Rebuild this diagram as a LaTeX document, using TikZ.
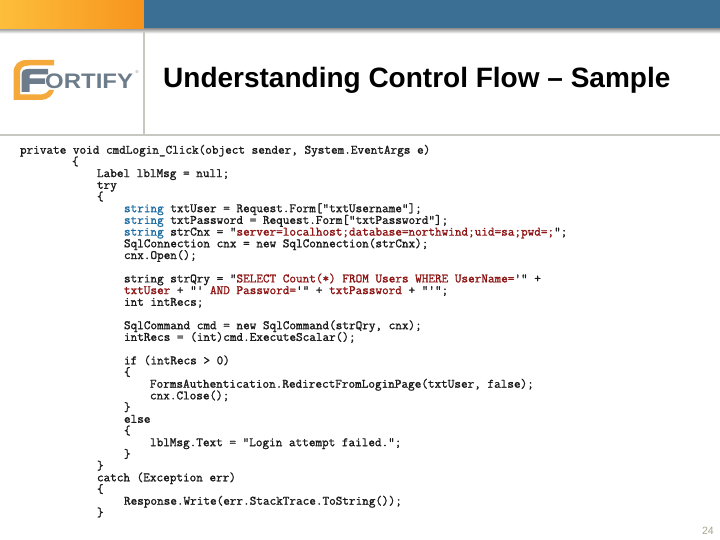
\documentclass[tikz,border=0pt]{standalone}
\usepackage{fontspec}
\setmainfont{Liberation Sans}
\newfontfamily\codefont{Latin Modern Mono}[FakeBold=1.3]
\usetikzlibrary{shadings}
\definecolor{barblue}{HTML}{3B6F93}
\definecolor{kwblue}{HTML}{1F6FA5}
\definecolor{strred}{HTML}{8F1414}
\definecolor{rulegrey}{HTML}{C8C8C2}
\definecolor{logogrey}{HTML}{6D7C8A}
\definecolor{logoorange}{HTML}{F5A93A}
\definecolor{numgrey}{HTML}{A8A490}
\definecolor{codeink}{HTML}{1A1A1A}
\definecolor{barleft}{HTML}{FDBE3C}
\definecolor{barright}{HTML}{F7941E}
\tikzset{
  codeline/.style={anchor=base west,inner sep=0pt,outer sep=0pt,text=codeink,font=\codefont\fontsize{12.85}{12.85}\selectfont},
  logotext/.style={anchor=base west,inner sep=0pt,text=logogrey,xscale=1.14,font=\bfseries\fontsize{21}{21}\selectfont}
}
\newcommand{\kw}[1]{\textcolor{kwblue}{#1}}
\newcommand{\st}[1]{\textcolor{strred}{#1}}
\begin{document}
\begin{tikzpicture}[x=1pt,y=-1pt]
\useasboundingbox (0,0) rectangle (720,540);
\fill[white] (0,0) rectangle (720,540);
% header bar
\shade[top color=black!45,bottom color=white] (0,28) rectangle (720,33.5);
\shade[left color=barleft,right color=barright] (0,0) rectangle (144,28.5);
\fill[barblue] (144,0) rectangle (720,28.5);
% rules
\fill[rulegrey] (143.3,31) rectangle (144.7,135);
\fill[rulegrey] (0,134.5) rectangle (720,136);
% logo
\fill[logoorange,even odd rule] (54,60) -- (27,60) .. controls (18,60) and (13.5,65) .. (13.5,73) -- (13.5,100) -- (41,100) .. controls (48,100) and (53,95) .. (54,90) -- (49,90) .. controls (47,93) and (44,94.5) .. (40,94.5) -- (20,94.5) -- (20,73) .. controls (20,68) and (23,65.5) .. (29,65.5) -- (54,65.5) -- cycle;
\fill[logogrey] (21.5,92) -- (21.5,75) .. controls (21.5,71) and (24,69) .. (28,69) -- (48,69) -- (48,74.5) -- (31,74.5) .. controls (30,74.5) and (29.5,75) .. (29.5,76.5) -- (29.5,78.5) -- (45,78.5) -- (45,84) -- (29.5,84) -- (29.5,92) -- cycle;
\node[logotext] (logo) at (45,88.5) {ORTIFY};
\node[anchor=center,inner sep=0pt,text=logogrey,font=\fontsize{4}{4}\selectfont] (reg) at (137,72.5) {®};
% title
\node[anchor=base west,inner sep=0pt,font=\bfseries\fontsize{28}{28}\selectfont,text=black] (title) at (163,88) {Understanding Control Flow – Sample};
% code
\node[codeline] (l0) at (20,153.7) {private void cmdLogin\_Click(object sender, System.EventArgs e)};
\node[codeline] (l1) at (72,165.4) {\{};
\node[codeline] (l2) at (97,177.1) {Label lblMsg = null;};
\node[codeline] (l3) at (97,188.8) {try};
\node[codeline] (l4) at (97,200.5) {\{};
\node[codeline] (l5) at (124,212.2) {\kw{string} txtUser = Request.Form["txtUsername"];};
\node[codeline] (l6) at (124,223.9) {\kw{string} txtPassword = Request.Form["txtPassword"];};
\node[codeline] (l7) at (124,235.6) {\kw{string} strCnx = "\st{server=localhost;database=northwind;uid=sa;pwd=;}";};
\node[codeline] (l8) at (124,247.3) {SqlConnection cnx = new SqlConnection(strCnx);};
\node[codeline] (l9) at (124,259) {cnx.Open();};
\node[codeline] (l11) at (124,282.4) {string strQry = "\st{SELECT Count(*) FROM Users WHERE UserName=}'" +};
\node[codeline] (l12) at (124,294.1) {\st{txtUser} + "' \st{AND Password=}'" + \st{txtPassword} + "'";};
\node[codeline] (l13) at (124,305.8) {int intRecs;};
\node[codeline] (l15) at (124,329.2) {SqlCommand cmd = new SqlCommand(strQry, cnx);};
\node[codeline] (l16) at (124,340.9) {intRecs = (int)cmd.ExecuteScalar();};
\node[codeline] (l18) at (124,364.3) {if (intRecs > 0)};
\node[codeline] (l19) at (124,376) {\{};
\node[codeline] (l20) at (150,387.7) {FormsAuthentication.RedirectFromLoginPage(txtUser, false);};
\node[codeline] (l21) at (150,399.4) {cnx.Close();};
\node[codeline] (l22) at (124,411.1) {\}};
\node[codeline] (l23) at (124,422.8) {else};
\node[codeline] (l24) at (124,434.5) {\{};
\node[codeline] (l25) at (150,446.2) {lblMsg.Text = "Login attempt failed.";};
\node[codeline] (l26) at (124,457.9) {\}};
\node[codeline] (l27) at (97,469.6) {\}};
\node[codeline] (l28) at (97,481.3) {catch (Exception err)};
\node[codeline] (l29) at (97,493) {\{};
\node[codeline] (l30) at (124,504.7) {Response.Write(err.StackTrace.ToString());};
\node[codeline] (l31) at (97,516.4) {\}};
% page number
\node[anchor=base east,inner sep=0pt,text=numgrey,font=\fontsize{10.5}{10.5}\selectfont] (page) at (714,534.5) {24};
\end{tikzpicture}
\end{document}
